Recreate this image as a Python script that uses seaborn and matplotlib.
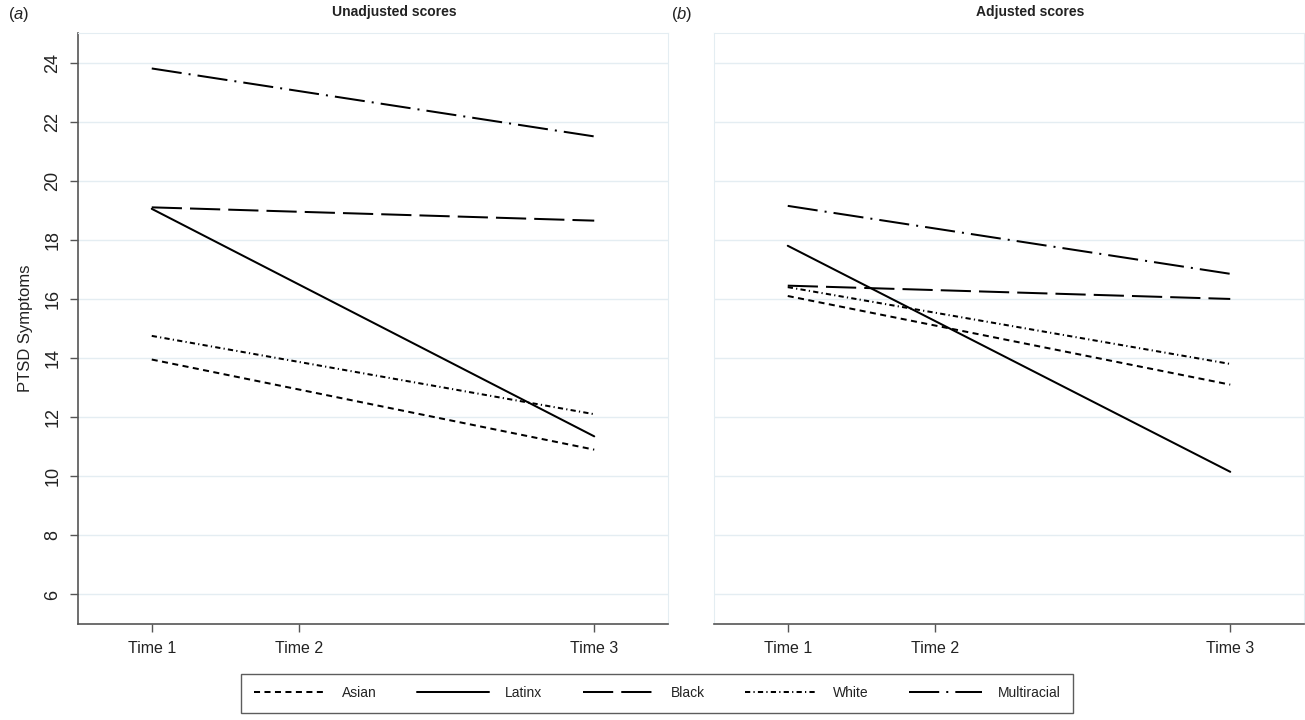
import pandas as pd
import matplotlib
matplotlib.use('Agg')
import matplotlib.pyplot as plt
import seaborn as sns

# values (linear trajectories, Time 1 -> Time 3)
groups = ['Asian', 'Latinx', 'Black', 'White', 'Multiracial']
time_pos = [0, 3]
tick_pos = [0, 1, 3]
tick_labels = ['Time 1', 'Time 2', 'Time 3']

unadj_t1 = [13.95, 19.05, 19.1, 14.75, 23.8]
unadj_t3 = [10.9, 11.35, 18.65, 12.1, 21.5]
adj_t1 = [16.1, 17.8, 16.45, 16.4, 19.15]
adj_t3 = [13.1, 10.15, 16.0, 13.8, 16.85]

dash_map = {
    'Asian': (3.0, 2.2),
    'Latinx': '',
    'Black': (15, 4),
    'White': (2.6, 1.6, 0.6, 1.6),
    'Multiracial': (15, 3.5, 1, 3.5),
}


def long_df(t1, t3):
    rows = []
    for g, a, b in zip(groups, t1, t3):
        rows.append({'group': g, 'time': time_pos[0], 'score': a})
        rows.append({'group': g, 'time': time_pos[1], 'score': b})
    return pd.DataFrame(rows)


sns.set_style('white')
plt.rcParams['font.family'] = ['Liberation Sans', 'DejaVu Sans']
plt.rcParams['mathtext.fontset'] = 'custom'
plt.rcParams['mathtext.rm'] = 'Liberation Sans'
plt.rcParams['mathtext.it'] = 'Liberation Sans:italic'
plt.rcParams['lines.linewidth'] = 1.45

grid_col = '#e4edf2'
axis_col = '#555555'
text_col = '#222222'

W, H = 1305, 720
fig = plt.figure(figsize=(W / 100, H / 100), dpi=100)
fig.patch.set_facecolor('white')
bottom, top = 624, 33
ax_a = fig.add_axes([78 / W, 1 - bottom / H, 590 / W, (bottom - top) / H])
ax_b = fig.add_axes([714 / W, 1 - bottom / H, 590 / W, (bottom - top) / H])

palette = {g: 'black' for g in groups}
panels = [(ax_a, long_df(unadj_t1, unadj_t3)), (ax_b, long_df(adj_t1, adj_t3))]

for i, (ax, df) in enumerate(panels):
    sns.lineplot(data=df, x='time', y='score', hue='group', style='group',
                 hue_order=groups, style_order=groups, palette=palette,
                 dashes=dash_map, linewidth=1.45, errorbar=None,
                 legend=(i == 0), ax=ax)
    ax.set_xlim(-0.5, 3.5)
    ax.set_ylim(5, 25)
    ax.set_xticks(tick_pos)
    ax.set_xticklabels(tick_labels, fontsize=11.5, color=text_col)
    ax.set_yticks(range(6, 25, 2))
    ax.grid(axis='y', color=grid_col, linewidth=1)
    ax.grid(axis='x', visible=False)
    ax.set_axisbelow(True)
    ax.set_xlabel('')
    ax.set_ylabel('')
    for s in ['top', 'right']:
        ax.spines[s].set_color(grid_col)
    ax.spines['bottom'].set_color(axis_col)
    ax.spines['bottom'].set_linewidth(1.2)
    ax.tick_params(axis='x', bottom=True, length=6, width=1, color=axis_col, pad=6)

# left panel y axis
ax_a.spines['left'].set_color(axis_col)
ax_a.spines['left'].set_linewidth(1.2)
ax_a.tick_params(axis='y', left=True, length=6, width=1, color=axis_col, pad=6)
ax_a.set_yticklabels([str(v) for v in range(6, 25, 2)], fontsize=13,
                     color=text_col, rotation=90, va='center')
ax_a.set_ylabel('PTSD Symptoms', fontsize=12, color=text_col, labelpad=8)

# right panel: no y axis labels
ax_b.spines['left'].set_color(grid_col)
ax_b.tick_params(axis='y', left=False, labelleft=False)

# titles and panel letters
fig.text(394 / W, 1 - 12 / H, 'Unadjusted scores', fontsize=10, fontweight='bold',
         ha='center', va='center', color=text_col)
fig.text(1030 / W, 1 - 12 / H, 'Adjusted scores', fontsize=10, fontweight='bold',
         ha='center', va='center', color=text_col)
fig.text(8 / W, 1 - 14 / H, r'($\it{a}$)', fontsize=12, ha='left', va='center', color=text_col)
fig.text(671 / W, 1 - 14 / H, r'($\it{b}$)', fontsize=12, ha='left', va='center', color=text_col)

# shared legend at the bottom
handles, labels = ax_a.get_legend_handles_labels()
ax_a.get_legend().remove()
leg = fig.legend(handles, labels, loc='center', bbox_to_anchor=(657 / W, 1 - 693 / H),
                 ncol=5, frameon=True, fancybox=False, edgecolor='#333333',
                 handlelength=5.2, handletextpad=1.15, columnspacing=2.9,
                 fontsize=10, borderpad=0.9)
leg.get_frame().set_linewidth(1.0)
for t in leg.get_texts():
    t.set_color(text_col)

fig.savefig('out.png', dpi=100, facecolor='white')
